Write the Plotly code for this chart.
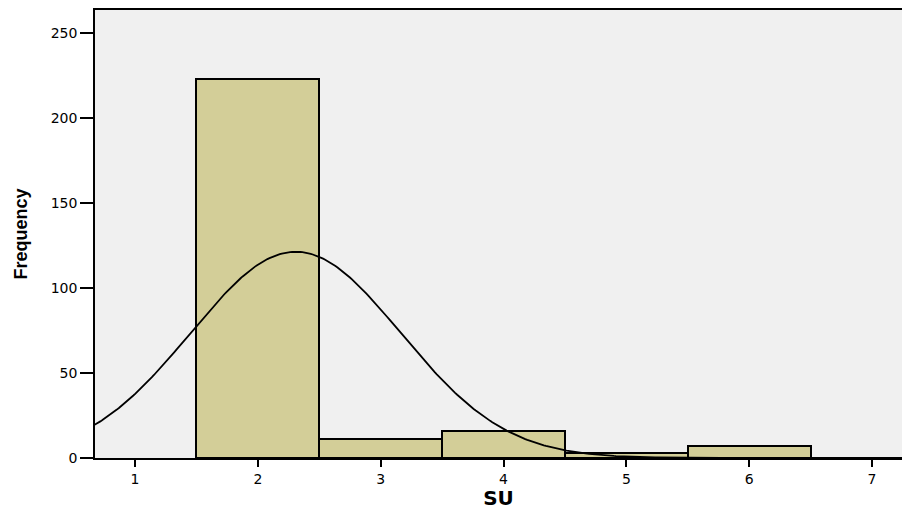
import numpy as np
import plotly.graph_objects as go

# Histogram data (bin centers and frequencies)
bin_centers = [2, 3, 4, 5, 6]
frequencies = [223, 11, 16, 3, 7]
bin_width = 1.0

x_ticks = [1, 2, 3, 4, 5, 6, 7]
y_ticks = [0, 50, 100, 150, 200, 250]

# Normal curve fitted to the histogram data (mean / sd of the binned values)
vals = np.repeat(bin_centers, frequencies).astype(float)
n = len(vals)
mean = vals.mean()
sd = vals.std(ddof=1)
xs = np.linspace(0.6, 7.3, 400)
ys = n * bin_width / (sd * np.sqrt(2 * np.pi)) * np.exp(-((xs - mean) ** 2) / (2 * sd ** 2))

fig = go.Figure()
fig.add_trace(go.Bar(
    x=bin_centers, y=frequencies, width=bin_width,
    marker=dict(color="#d3ce98", line=dict(color="black", width=2)),
    showlegend=False, hoverinfo="x+y",
))
fig.add_trace(go.Scatter(
    x=xs, y=ys, mode="lines",
    line=dict(color="black", width=1.8),
    showlegend=False, hoverinfo="skip",
))

tick_font = "DejaVu Sans, Liberation Sans, Arial, sans-serif"
title_font = "Liberation Sans, Arial, sans-serif"
fig.update_layout(
    width=902, height=510,
    margin=dict(l=95, r=0, t=10, b=52),
    paper_bgcolor="white",
    plot_bgcolor="#f0f0f0",
    font=dict(family=tick_font, size=14, color="black"),
    bargap=0,
    xaxis=dict(
        range=[0.674, 7.244],
        tickvals=x_ticks, ticktext=[str(v) for v in x_ticks],
        ticks="outside", ticklen=7, tickwidth=2, tickcolor="black",
        showline=True, linecolor="black", linewidth=1.5, mirror=True,
        showgrid=False, zeroline=False,
        title=dict(text="<b>SU</b>", font=dict(size=20, family=tick_font), standoff=8),
        tickfont=dict(size=14, family=tick_font),
    ),
    yaxis=dict(
        range=[0, 263.5],
        tickvals=y_ticks, ticktext=[str(v) for v in y_ticks],
        ticks="outside", ticklen=13, tickwidth=2, tickcolor="black",
        showline=True, linecolor="black", linewidth=1.5, mirror=False,
        showgrid=False, zeroline=False,
        title=dict(text="<b>Frequency</b>", font=dict(size=18, family=title_font), standoff=18),
        tickfont=dict(size=14, family=tick_font),
    ),
)

fig.write_html(
    "out.html",
    config={"displayModeBar": False},
    post_script="document.body.style.margin='0';document.body.style.overflow='hidden';",
)
